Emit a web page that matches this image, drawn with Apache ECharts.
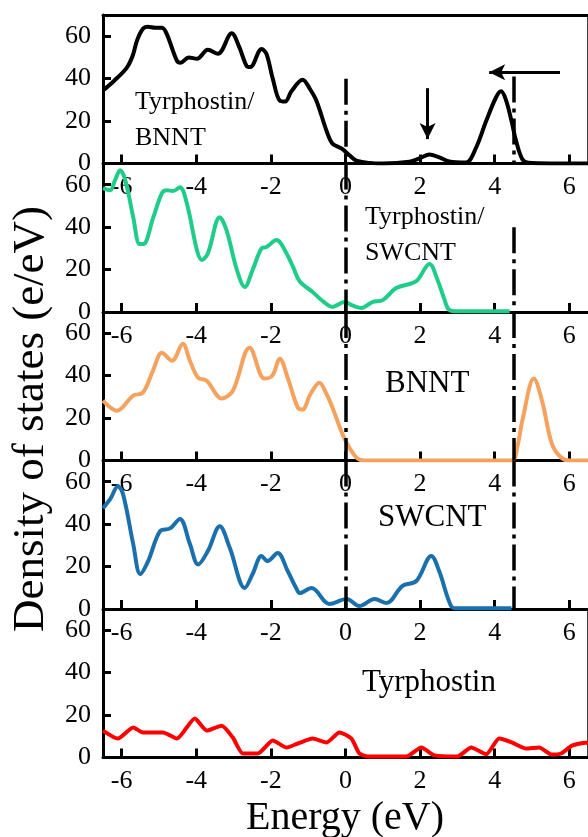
<!DOCTYPE html>
<html>
<head>
<meta charset="utf-8">
<script src="https://cdn.jsdelivr.net/npm/echarts@6/dist/echarts.min.js"></script>
<style>
  html, body { margin: 0; padding: 0; background: #fff; }
  #chart { width: 588px; height: 837px; }
</style>
</head>
<body>
<div id="chart"></div>
<script>
// energy (eV), density of states (e/eV)
var tyrBnnt = [[-6.5,34.4],[-6.2,39],[-5.86,45.2],[-5.7,51],[-5.59,57.9],[-5.43,63.5],[-5.3,64.5],[-5.1,64],[-4.92,64],[-4.79,61],[-4.52,48.5],[-4.42,47.5],[-4.2,50],[-3.98,49.4],[-3.69,53.6],[-3.42,51.7],[-3.05,61.4],[-2.85,55],[-2.65,46],[-2.55,45.5],[-2.25,54],[-2.12,51.7],[-1.95,40],[-1.76,29.6],[-1.62,29.2],[-1.45,34],[-1.15,39.5],[-0.95,35],[-0.78,29.6],[-0.5,15],[-0.35,9.4],[-0.1,7],[0.1,4],[0.29,1.4],[0.64,0.3],[1.0,0],[1.71,0.8],[2.0,2.5],[2.25,4.2],[2.5,3],[2.78,1],[3.23,0.5],[3.5,7.5],[3.77,20],[4.03,31],[4.17,34],[4.3,30],[4.45,20],[4.57,10.8],[4.74,2],[4.9,0.3],[5.5,0],[6.5,0]];
var tyrSwcnt = [[-6.5,58.4],[-6.31,57.4],[-6.18,62],[-6.04,66.8],[-5.9,62],[-5.69,44.7],[-5.52,32],[-5.42,32],[-5.15,44.7],[-4.92,56],[-4.79,57.4],[-4.62,57],[-4.44,58.8],[-4.25,51],[-3.98,29],[-3.85,24.5],[-3.69,27.6],[-3.37,44.7],[-3.19,38.6],[-2.91,19.8],[-2.7,11.8],[-2.49,19.8],[-2.25,30],[-2.12,30.6],[-1.85,33.9],[-1.58,27.6],[-1.4,21],[-1.23,14.5],[-0.88,9.4],[-0.6,5],[-0.35,2.4],[-0.03,4.7],[0.2,3],[0.43,1.9],[0.72,4.7],[1.0,5.6],[1.36,11.3],[1.79,13.6],[1.93,15],[2.25,22.6],[2.47,15],[2.65,6],[2.78,1],[3.0,0.3],[4.4,0.3]];
var bnnt = [[-6.5,28.2],[-6.13,23.5],[-5.69,30.6],[-5.43,32],[-5.16,42.4],[-4.92,50.8],[-4.65,47],[-4.36,55],[-4.17,47],[-3.95,39],[-3.72,37.6],[-3.32,29.2],[-3.02,32.9],[-2.57,53.2],[-2.17,38.6],[-1.96,40],[-1.76,48],[-1.55,39],[-1.28,25],[-1.15,24],[-0.95,31],[-0.7,36.7],[-0.5,31],[-0.35,25],[-0.03,10.4],[0.29,1.4],[0.5,0],[4.45,0],[4.6,6],[4.74,18.8],[5.05,38.6],[5.27,28],[5.53,8],[5.78,1.4],[6.0,0],[6.5,0]];
var swcnt = [[-6.5,47.5],[-6.3,52],[-6.1,57.9],[-5.96,54],[-5.69,30.6],[-5.5,16.5],[-5.29,22.6],[-4.97,36.7],[-4.7,38],[-4.44,42.4],[-4.17,30.6],[-3.95,21],[-3.69,27.3],[-3.37,39],[-3.1,28.7],[-2.7,9.9],[-2.49,16.5],[-2.25,25],[-2.09,22.6],[-1.82,26.4],[-1.55,17.9],[-1.31,9.4],[-1.23,7.5],[-0.91,9.9],[-0.43,2.4],[0.03,4.7],[0.37,1.4],[0.78,4.7],[1.1,2.8],[1.52,10.8],[1.9,13.2],[2.3,25],[2.51,17.9],[2.83,1.4],[3.0,0.3],[4.45,0.3]];
var tyr = [[-6.5,12.7],[-6.1,8.9],[-5.69,14.1],[-5.43,11.8],[-4.89,11.8],[-4.52,8.9],[-4.04,18.4],[-3.72,12.7],[-3.32,15],[-3.02,9.4],[-2.75,1.9],[-2.35,1.9],[-1.95,8],[-1.58,4.7],[-1.28,6.6],[-0.88,8.9],[-0.51,7.1],[-0.16,11.8],[0.16,8.9],[0.37,1.9],[0.6,0.5],[1.63,0.5],[2.03,4.7],[2.38,1],[3.0,0.5],[3.37,4.7],[3.77,1.5],[4.12,8.9],[4.47,7],[4.84,4.2],[5.19,4.7],[5.53,1.4],[5.78,1.9],[6.07,5.6],[6.44,7],[6.5,7]];

var xTicks = [-6, -4, -2, 0, 2, 4, 6];
var yTicks = [0, 20, 40, 60];
var panelNames = ['Tyrphostin/\nBNNT', 'Tyrphostin/\nSWCNT', 'BNNT', 'SWCNT', 'Tyrphostin'];
var panelData = [tyrBnnt, tyrSwcnt, bnnt, swcnt, tyr];
var panelColors = ['#000000', '#1fcc8a', '#f5a25e', '#1a6fad', '#ff0000'];
// where the dash-dot lines start (top value) in each panel: [at 0 eV, at gap edge]
var fermiE = 0, gapE = 4.52;
var dashTop = [[40, 41], [70, 40], [70, 70], [70, 70]];

var serif = '"Times New Roman", "Liberation Serif", serif';
var myChart = echarts.init(document.getElementById('chart'));

var grids = [], xAxes = [], yAxes = [], series = [];
for (var i = 0; i < 5; i++) {
    grids.push({
        left: 103, width: 485, top: 15 + 148.5 * i, height: 148.5,
        show: i === 0 || i === 4, borderColor: '#000', borderWidth: 1.5
    });
    xAxes.push({
        type: 'value', gridIndex: i, min: -6.5, max: 6.5,
        axisLine: { onZero: false, lineStyle: { color: '#000', width: 3 } },
        axisTick: { inside: true, length: 9, lineStyle: { width: 3 }, customValues: xTicks },
        axisLabel: { customValues: xTicks, margin: 11, color: '#000', fontSize: 26, fontFamily: serif },
        splitLine: { show: false }
    });
    yAxes.push({
        type: 'value', gridIndex: i, min: 0, max: 70,
        axisLine: { show: true, onZero: false, lineStyle: { color: '#000', width: 3 } },
        axisTick: { show: true, inside: true, length: 8, lineStyle: { width: 3 }, customValues: yTicks },
        axisLabel: { customValues: yTicks, margin: 12, color: '#000', fontSize: 26, fontFamily: serif },
        splitLine: { show: false }
    });
    var s = {
        type: 'line', xAxisIndex: i, yAxisIndex: i,
        data: panelData[i], smooth: i === 4 ? 0.2 : 0.35, showSymbol: false,
        lineStyle: { color: panelColors[i], width: 4 }, z: 3
    };
    if (i < 4) {
        s.markLine = {
            silent: true, symbol: 'none', label: { show: false }, animation: false,
            lineStyle: { color: '#000', width: 3.5, type: [26, 6, 4, 6] },
            data: [
                [{ coord: [fermiE, dashTop[i][0]] }, { coord: [fermiE, 0] }],
                [{ coord: [gapE, dashTop[i][1]] }, { coord: [gapE, 0] }]
            ]
        };
    }
    series.push(s);
}
// thick top frame of the first panel
xAxes.push({
    type: 'value', gridIndex: 0, position: 'top', min: -6.5, max: 6.5,
    axisLine: { onZero: false, lineStyle: { color: '#000', width: 3 } },
    axisTick: { show: false }, axisLabel: { show: false }, splitLine: { show: false }
});
// arrows in the first panel
series.push({
    type: 'line', xAxisIndex: 0, yAxisIndex: 0, data: [],
    markLine: {
        silent: true, symbol: ['none', 'arrow'], symbolSize: [12, 16], label: { show: false }, animation: false,
        lineStyle: { color: '#000', width: 3, type: 'solid' },
        data: [
            [{ coord: [2.2, 35.5] }, { coord: [2.2, 11.5] }],
            [{ coord: [5.75, 43] }, { coord: [3.85, 43] }]
        ]
    }
});

var labelPos = [[135, 100, 26], [365, 215, 26], [385, 381, 31], [378, 515, 31], [362, 680, 31]];
var graphics = [];
labelPos.forEach(function (p, i) {
    graphics.push({
        type: 'text', left: p[0], top: p[1] - p[2] * 0.6,
        style: { text: panelNames[i], font: p[2] + 'px ' + serif, fill: '#000', lineHeight: p[2] * 1.38 }
    });
});
graphics.push({
    type: 'text', x: 31, y: 419, rotation: Math.PI / 2,
    style: { text: 'Density of states (e/eV)', font: '45px ' + serif, fill: '#000', align: 'center', verticalAlign: 'middle' }
});
graphics.push({
    type: 'text', x: 345, y: 818,
    style: { text: 'Energy (eV)', font: '40px ' + serif, fill: '#000', align: 'center', verticalAlign: 'middle' }
});

var option = {
    animation: false,
    grid: grids,
    xAxis: xAxes,
    yAxis: yAxes,
    series: series,
    graphic: graphics
};
myChart.setOption(option);
</script>
</body>
</html>
